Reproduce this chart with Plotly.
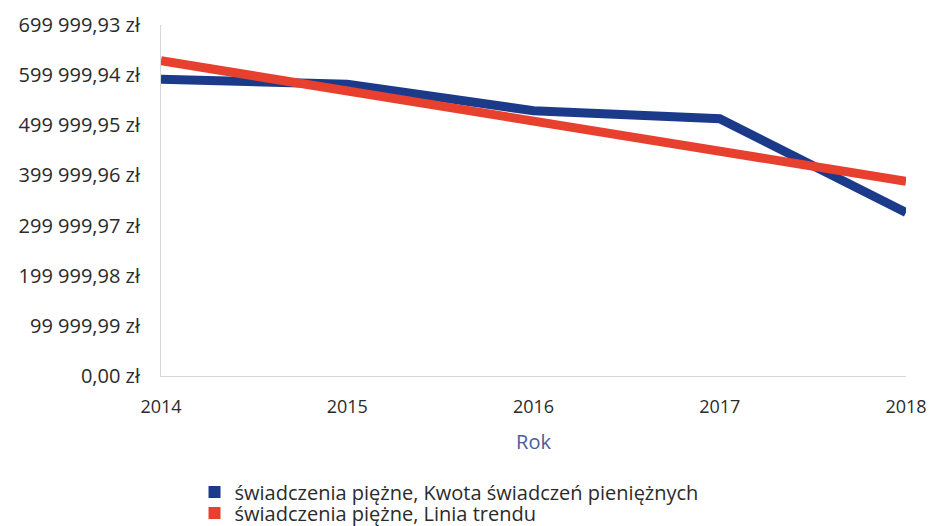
import plotly.graph_objects as go

# ── data ─────────────────────────────────────────────────
years = [2014, 2015, 2016, 2017, 2018]
kwota = [592000, 582000, 529000, 513000, 326000]
trend = [628600, 568500, 508400, 448300, 388200]

y_ticks = [0.00, 99999.99, 199999.98, 299999.97, 399999.96, 499999.95, 599999.94, 699999.93]
y_labels = ["0,00 zł", "99 999,99 zł", "199 999,98 zł", "299 999,97 zł",
            "399 999,96 zł", "499 999,95 zł", "599 999,94 zł", "699 999,93 zł"]

names = ["świadczenia piężne, Kwota świadczeń pieniężnych",
         "świadczenia piężne, Linia trendu"]
colors = ["#1c3a8a", "#e8402e"]

fig = go.Figure()

for vals, c in zip([kwota, trend], colors):
    fig.add_trace(go.Scatter(x=years, y=vals, mode="lines",
                             line=dict(color=c, width=9),
                             showlegend=False, hoverinfo="skip"))

# legend keys: one legend per entry so the rows can sit close together
for i, (n, c) in enumerate(zip(names, colors)):
    fig.add_trace(go.Scatter(x=[None], y=[None], mode="markers", name=n,
                             legend="legend" if i == 0 else "legend2",
                             marker=dict(symbol="square", size=12, color=c)))

leg = dict(x=0.045, xanchor="left", yanchor="middle",
           font=dict(size=20, color="#2b2b2b"), itemwidth=30,
           bgcolor="rgba(0,0,0,0)")

fig.update_layout(
    width=930, height=526,
    paper_bgcolor="white", plot_bgcolor="white",
    font=dict(family="Open Sans, sans-serif", size=20, color="#2b2b2b"),
    margin=dict(l=161, r=24, t=25, b=150, autoexpand=False),
    showlegend=True,
    legend=dict(leg, y=-0.3305),
    legend2=dict(leg, y=-0.3903),
    xaxis=dict(
        range=[2014, 2018], tickvals=years, ticktext=[str(y) for y in years],
        showgrid=False, zeroline=False, showline=True, linecolor="#d4d6dc",
        linewidth=1, ticks="", automargin=False, ticklabelstandoff=14,
        tickfont=dict(size=18, color="#2b2b2b"),
        title=dict(text="Rok", font=dict(size=20, color="#4a5d9e"), standoff=18),
    ),
    yaxis=dict(
        range=[0, 699999.93], tickvals=y_ticks, ticktext=y_labels,
        showgrid=False, zeroline=False, showline=True, linecolor="#d4d6dc",
        linewidth=1, ticks="", ticklabelstandoff=16, automargin=False,
        tickfont=dict(size=20, color="#2b2b2b"),
    ),
)

# drop the browser's default 8px body margin so the figure fills the window
fig.write_html("out.html", config={"displayModeBar": False},
               post_script="document.body.style.margin = '0';")
